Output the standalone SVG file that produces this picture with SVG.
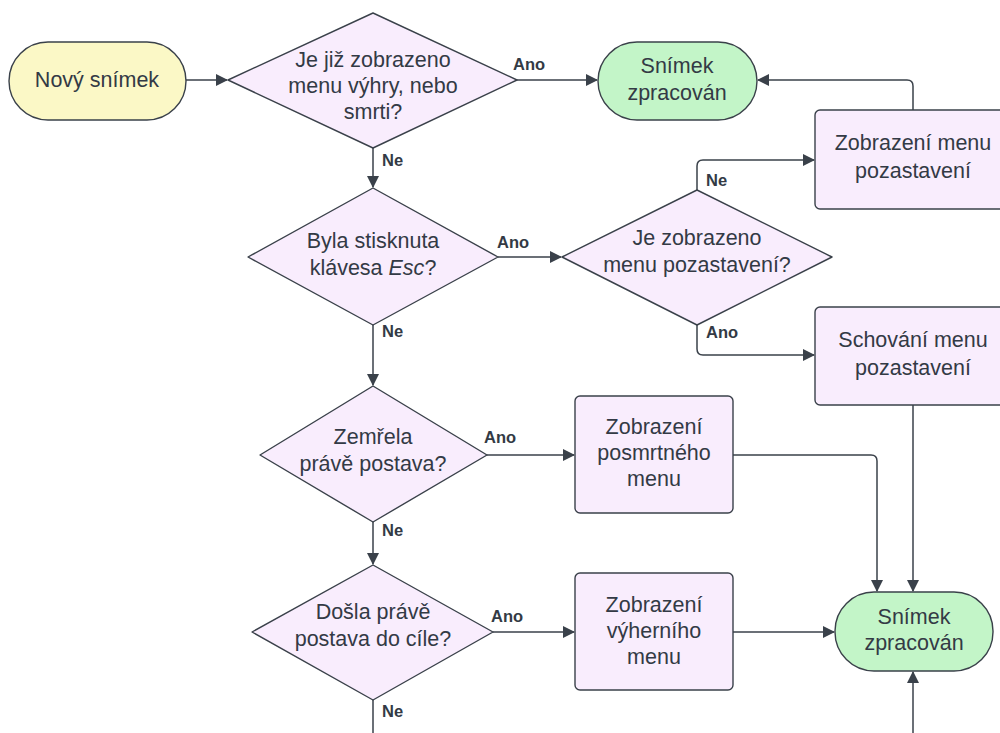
<svg xmlns="http://www.w3.org/2000/svg" width="1000" height="733" viewBox="0 0 1000 733">
  <defs>
    <marker id="arrow" viewBox="0 0 12 12" refX="11" refY="6" markerWidth="12" markerHeight="12" markerUnits="userSpaceOnUse" orient="auto">
      <path d="M0,0 L12,6 L0,12 Z" fill="#3a414a"/>
    </marker>
    <style>
      .pill-start { fill: #fbf8c6; stroke: #3a414a; stroke-width: 1.4; }
      .pill-end { fill: #c3f5c8; stroke: #3a414a; stroke-width: 1.4; }
      .decision, .process { fill: #f9edfd; stroke: #3a414a; stroke-width: 1.4; stroke-linejoin: round; }
      .t { font-family: "Liberation Sans", Arial, sans-serif; font-size: 21.5px; fill: #333a45; text-anchor: middle; }
      .lbl { font-family: "Liberation Sans", Arial, sans-serif; font-size: 16.5px; font-weight: bold; fill: #333a45; }
      .edge { fill: none; stroke: #3a414a; stroke-width: 1.5; }
    </style>
  </defs>

  <!-- connectors -->
  <g id="connectors">
    <path class="edge" d="M186,80 H227" marker-end="url(#arrow)"/>
    <path class="edge" d="M517,80 H597" marker-end="url(#arrow)"/>
    <path class="edge" d="M913,110 V86 Q913,80 907,80 H758" marker-end="url(#arrow)"/>
    <path class="edge" d="M373,148 V187" marker-end="url(#arrow)"/>
    <path class="edge" d="M498,257 H561" marker-end="url(#arrow)"/>
    <path class="edge" d="M697,190 V166 Q697,160 703,160 H814" marker-end="url(#arrow)"/>
    <path class="edge" d="M697,325 V349 Q697,355 703,355 H814" marker-end="url(#arrow)"/>
    <path class="edge" d="M913,405 V591" marker-end="url(#arrow)"/>
    <path class="edge" d="M373,325 V385" marker-end="url(#arrow)"/>
    <path class="edge" d="M487,455 H574" marker-end="url(#arrow)"/>
    <path class="edge" d="M733,455 H871 Q877,455 877,461 V591" marker-end="url(#arrow)"/>
    <path class="edge" d="M373,522 V564" marker-end="url(#arrow)"/>
    <path class="edge" d="M493,632 H574" marker-end="url(#arrow)"/>
    <path class="edge" d="M733,632 H834" marker-end="url(#arrow)"/>
    <path class="edge" d="M913,733 V672" marker-end="url(#arrow)"/>
    <path class="edge" d="M373,700 V733"/>

    <text class="lbl" x="513" y="70">Ano</text>
    <text class="lbl" x="382" y="166">Ne</text>
    <text class="lbl" x="497" y="248">Ano</text>
    <text class="lbl" x="706" y="186">Ne</text>
    <text class="lbl" x="706" y="338">Ano</text>
    <text class="lbl" x="382" y="337">Ne</text>
    <text class="lbl" x="484" y="443">Ano</text>
    <text class="lbl" x="382" y="536">Ne</text>
    <text class="lbl" x="491" y="622">Ano</text>
    <text class="lbl" x="382" y="717">Ne</text>
  </g>

  <g id="start">
    <rect class="pill-start" x="9" y="42" width="177" height="78" rx="39"/>
    <text class="t" x="97" y="87">Nový snímek</text>
  </g>

  <g id="q-menu-shown">
    <path class="decision" d="M228,80 L373,13 L517,80 L373,148 Z"/>
    <text class="t" x="373" y="67">Je již zobrazeno</text>
    <text class="t" x="373" y="93">menu výhry, nebo</text>
    <text class="t" x="373" y="119">smrti?</text>
  </g>

  <g id="done-top">
    <rect class="pill-end" x="598" y="42" width="159" height="78" rx="39"/>
    <text class="t" x="677" y="73">Snímek</text>
    <text class="t" x="677" y="100">zpracován</text>
  </g>

  <g id="show-pause">
    <rect class="process" x="815" y="110" width="200" height="99" rx="5"/>
    <text class="t" x="913" y="150">Zobrazení menu</text>
    <text class="t" x="913" y="178">pozastavení</text>
  </g>

  <g id="q-esc">
    <path class="decision" d="M248,257 L373,188 L498,257 L373,325 Z"/>
    <text class="t" x="373" y="248">Byla stisknuta</text>
    <text class="t" x="373" y="275">klávesa <tspan font-style="italic">Esc</tspan>?</text>
  </g>

  <g id="q-pause-shown">
    <path class="decision" d="M562,257 L697,190 L832,257 L697,325 Z"/>
    <text class="t" x="697" y="245">Je zobrazeno</text>
    <text class="t" x="697" y="272">menu pozastavení?</text>
  </g>

  <g id="hide-pause">
    <rect class="process" x="815" y="307" width="200" height="98" rx="5"/>
    <text class="t" x="913" y="347">Schování menu</text>
    <text class="t" x="913" y="375">pozastavení</text>
  </g>

  <g id="q-died">
    <path class="decision" d="M260,455 L373,386 L487,455 L373,522 Z"/>
    <text class="t" x="373" y="444">Zemřela</text>
    <text class="t" x="373" y="471">právě postava?</text>
  </g>

  <g id="death-menu">
    <rect class="process" x="575" y="396" width="158" height="117" rx="5"/>
    <text class="t" x="654" y="434">Zobrazení</text>
    <text class="t" x="654" y="460">posmrtného</text>
    <text class="t" x="654" y="486">menu</text>
  </g>

  <g id="q-goal">
    <path class="decision" d="M252,632 L373,565 L493,632 L373,700 Z"/>
    <text class="t" x="373" y="619">Došla právě</text>
    <text class="t" x="373" y="646">postava do cíle?</text>
  </g>

  <g id="win-menu">
    <rect class="process" x="575" y="573" width="158" height="117" rx="5"/>
    <text class="t" x="654" y="612">Zobrazení</text>
    <text class="t" x="654" y="638">výherního</text>
    <text class="t" x="654" y="664">menu</text>
  </g>

  <g id="done-bottom">
    <rect class="pill-end" x="835" y="592" width="158" height="79" rx="39"/>
    <text class="t" x="914" y="624">Snímek</text>
    <text class="t" x="914" y="650">zpracován</text>
  </g>
</svg>
